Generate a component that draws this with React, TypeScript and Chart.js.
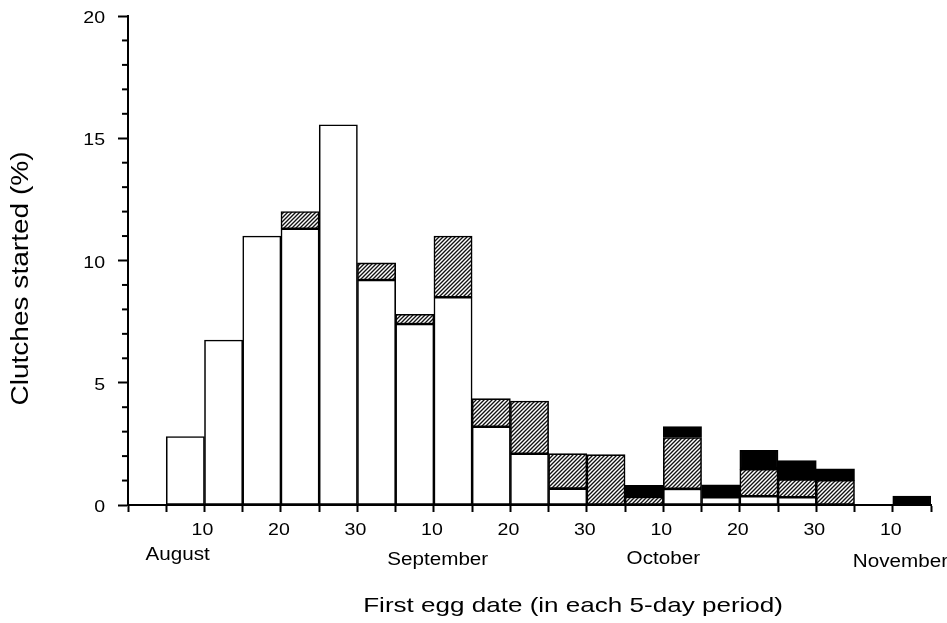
import { useEffect, useRef } from "react";
import { Chart, registerables } from "chart.js";

Chart.register(...registerables);

// 5-day periods, index k spans axis ticks k..k+1
const periodCount = 21;
const whiteValues = [0, 2.8, 6.75, 11.0, 11.3, 15.55, 9.2, 7.4, 8.5, 3.2, 2.1, 0.67, 0, 0, 0.66, 0.32, 0.36, 0.32, 0, 0, 0];
const hatchedValues = [0, 0, 0, 0, 0.7, 0, 0.7, 0.4, 2.5, 1.15, 2.15, 1.43, 2.06, 0.33, 2.1, 0, 1.1, 0.72, 1.01, 0, 0];
const blackValues = [0, 0, 0, 0, 0, 0, 0, 0, 0, 0, 0, 0, 0, 0.47, 0.45, 0.5, 0.78, 0.78, 0.47, 0, 0.36];

const xTickLabels = ["", "", "10", "", "20", "", "30", "", "10", "", "20", "", "30", "", "10", "", "20", "", "30", "", "10", ""];
const yTickLabels = ["0", "5", "10", "15", "20"];
const yTickValues = [0, 5, 10, 15, 20];
const monthLabels = ["August", "September", "October", "November"];
const monthAt = [1.3, 8.1, 14.0, 20.2];

const yTitle = "Clutches started (%)";
const xTitle = "First egg date (in each 5-day period)";

const FONT = '"Liberation Sans", Arial, Helvetica, sans-serif';

function makeHatch(): CanvasPattern | string {
  const c = document.createElement("canvas");
  c.width = 4;
  c.height = 4;
  const g = c.getContext("2d");
  if (!g) return "#888";
  g.fillStyle = "#fff";
  g.fillRect(0, 0, 4, 4);
  g.strokeStyle = "#111";
  g.lineWidth = 1.35;
  g.beginPath();
  g.moveTo(-1, 5); g.lineTo(5, -1);
  g.moveTo(-1, 1); g.lineTo(1, -1);
  g.moveTo(3, 5); g.lineTo(5, 3);
  g.stroke();
  const p = g.createPattern(c, "repeat");
  return p || "#888";
}

function stretchedText(ctx: CanvasRenderingContext2D, text: string, x: number, y: number, sx: number) {
  ctx.save();
  ctx.translate(x, y);
  ctx.scale(sx, 1);
  ctx.fillText(text, 0, 0);
  ctx.restore();
}

const textPlugin = {
  id: "figureText",
  afterDraw(chart: any) {
    const { ctx, chartArea, scales } = chart;
    const xs = scales.x;
    const ys = scales.y;
    ctx.save();
    // minor y ticks
    ctx.strokeStyle = "#000";
    ctx.lineWidth = 2;
    for (let v = 0; v <= 20; v++) {
      if (v % 5 === 0) continue;
      const py = ys.getPixelForValue(v);
      ctx.beginPath();
      ctx.moveTo(chartArea.left - 6, py);
      ctx.lineTo(chartArea.left, py);
      ctx.stroke();
    }
    ctx.fillStyle = "#000";
    ctx.textBaseline = "alphabetic";
    // y tick labels
    ctx.font = `17px ${FONT}`;
    ctx.textAlign = "right";
    yTickValues.forEach((v, i) => {
      stretchedText(ctx, yTickLabels[i], chartArea.left - 23, ys.getPixelForValue(v) + 7, 1.15);
    });
    // x tick labels
    ctx.textAlign = "center";
    xTickLabels.forEach((t, i) => {
      if (!t) return;
      stretchedText(ctx, t, xs.getPixelForValue(i) - 2, chartArea.bottom + 30, 1.15);
    });
    // month labels
    ctx.font = `17.5px ${FONT}`;
    const monthDy = [55, 60, 59, 62];
    monthLabels.forEach((m, i) => {
      stretchedText(ctx, m, xs.getPixelForValue(monthAt[i]), chartArea.bottom + monthDy[i], 1.18);
    });
    // x title
    ctx.font = `21px ${FONT}`;
    stretchedText(ctx, xTitle, xs.getPixelForValue(11.64), chartArea.bottom + 107, 1.24);
    // y title
    ctx.font = `23px ${FONT}`;
    ctx.textBaseline = "middle";
    ctx.save();
    ctx.translate(22, (chartArea.top + chartArea.bottom) / 2 + 18);
    ctx.rotate(-Math.PI / 2);
    ctx.scale(1.22, 1);
    ctx.fillText(yTitle, 0, 0);
    ctx.restore();
    ctx.restore();
  },
};

export default function App() {
  const ref = useRef<HTMLCanvasElement | null>(null);
  useEffect(() => {
    if (!ref.current) return;
    const hatch = makeHatch();
    const toPoints = (arr: number[]) => arr.slice(0, periodCount).map((v, i) => ({ x: i + 0.5, y: v }));
    const common = {
      borderColor: "#000",
      borderWidth: 1.6,
      borderSkipped: false as const,
      barPercentage: 1,
      categoryPercentage: 1,
    };
    const chart = new Chart(ref.current, {
      type: "bar",
      data: {
        datasets: [
          { ...common, label: "white", data: toPoints(whiteValues) as any, backgroundColor: "#fff" },
          { ...common, label: "hatched", data: toPoints(hatchedValues) as any, backgroundColor: hatch as any },
          { ...common, label: "black", data: toPoints(blackValues) as any, backgroundColor: "#000" },
        ],
      },
      options: {
        animation: false,
        responsive: true,
        maintainAspectRatio: false,
        layout: { padding: { top: 16, right: 16, left: 0, bottom: 0 } },
        plugins: { legend: { display: false }, tooltip: { enabled: false } },
        scales: {
          x: {
            type: "linear",
            min: 0,
            max: 21,
            offset: false,
            stacked: true,
            afterFit: (s: any) => { s.height = 118; },
            grid: { offset: false, drawOnChartArea: false, drawTicks: true, tickLength: 7, tickWidth: 2, tickColor: "#000" },
            border: { display: true, color: "#000", width: 2 },
            ticks: {
              display: false,
              stepSize: 1,
              autoSkip: false,
              maxRotation: 0,
            },
          },
          y: {
            type: "linear",
            min: 0,
            max: 20,
            stacked: true,
            afterFit: (s: any) => { s.width = 128; },
            grid: {
              drawOnChartArea: false,
              drawTicks: true,
              tickLength: 10,
              tickWidth: 2,
              tickColor: (c: any) => (c.tick && c.tick.value % 5 === 0 ? "#000" : "rgba(0,0,0,0)"),
            },
            border: { display: true, color: "#000", width: 2 },
            ticks: {
              display: false,
              stepSize: 1,
              autoSkip: false,
            },
          },
        },
      },
      plugins: [textPlugin],
    });
    return () => chart.destroy();
  }, []);
  return (
    <div style={{ position: "fixed", left: 0, top: 0, width: 947, height: 623, background: "#fff" }}>
      <canvas ref={ref} style={{ display: "block" }} />
    </div>
  );
}
